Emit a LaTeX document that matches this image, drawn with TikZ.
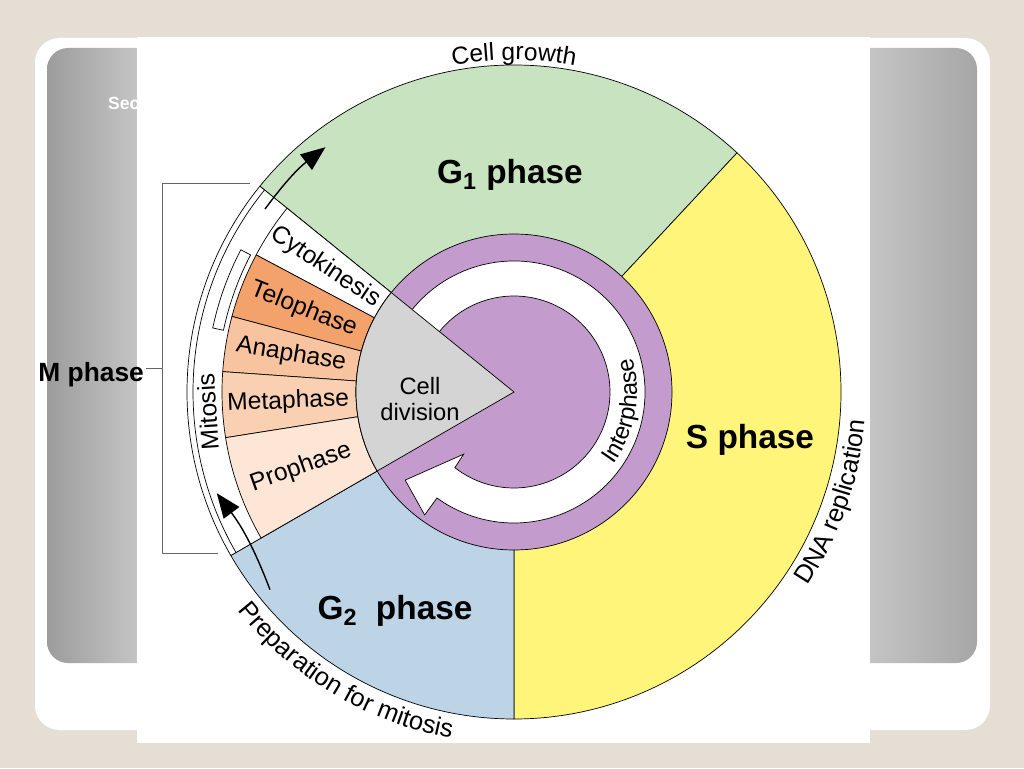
\documentclass[tikz,border=0pt]{standalone}
\usepackage{fontspec}
\setmainfont{Liberation Sans}
\usetikzlibrary{arrows.meta, decorations.text}
\definecolor{bgbeige}{HTML}{E5DED4}
\definecolor{sldark}{HTML}{9C9C9C}
\definecolor{sllight}{HTML}{C4C4C4}
\definecolor{gonecol}{HTML}{C8E3C0}
\definecolor{scol}{HTML}{FFF57A}
\definecolor{gtwocol}{HTML}{BCD4E6}
\definecolor{purp}{HTML}{C39BCC}
\definecolor{divgray}{HTML}{D4D4D4}
\definecolor{telo}{HTML}{F4A26C}
\definecolor{ana}{HTML}{F8C4A0}
\definecolor{meta}{HTML}{F9D0B2}
\definecolor{pro}{HTML}{FDE6D6}

\begin{document}
\begin{tikzpicture}
                [x=0.02cm, y=0.02cm,
                secsty/.style={draw=black, thin},
                bigsty/.style={font=\fontsize{19}{19}\selectfont\bfseries},
                labsty/.style={font=\fontsize{14}{15}\selectfont, align=center},
                asty/.style={-{Triangle[length=14pt, width=11pt]}, thick},
                curv/.style={decorate, decoration={text along path, text align=center, text={#1}}}]
                \useasboundingbox (0,0) rectangle (1024,768);
                % slide background
                \fill[bgbeige] (0,0) rectangle (1024,768);
                \fill[white, rounded corners=14] (35,38) rectangle (990,730);
                \begin{scope}
                    \clip[rounded corners=12] (47,105) rectangle (977,720);
                    \shade[left color=sldark, right color=sllight] (47,105) rectangle (137,720);
                    \shade[left color=sllight, right color=sldark!90] (870,105) rectangle (977,720);
                \end{scope}
                \node[anchor=west, text=white, font=\fontsize{10}{10}\selectfont\bfseries] (sec) at (102,665) {Sec};
                \fill[white] (137,25) rectangle (870,731);
                % M phase bracket
                \coordinate (mt1) at (250,585);
                \coordinate (mt0) at (162,585);
                \coordinate (mb0) at (162,215);
                \coordinate (mb1) at (218,215);
                \coordinate (mm) at (162,400);
                \draw[gray!80!black] (mt1) -- (mt0) -- (mb0) -- (mb1);
                \node[font=\fontsize{15}{15}\selectfont\bfseries, anchor=east, inner sep=1pt] (mph) at (146,393) {M phase};
                \draw[gray!80!black] (mph.east |- mm) -- (mm);
                \begin{scope}[shift={(514,376)}]
                % phases
                \filldraw[secsty, fill=gonecol] (0,0) -- (141:327) arc (141:47:327) -- cycle;
                \filldraw[secsty, fill=scol] (0,0) -- (47:327) arc (47:-90:327) -- cycle;
                \filldraw[secsty, fill=gtwocol] (0,0) -- (-90:327) arc (-90:-150:327) -- cycle;
                \filldraw[secsty, fill=white] (0,0) -- (141:327) arc (141:210:327) -- cycle;
                \draw[secsty] (141:321) arc (141:210:321);
                % mitosis stages
                \foreach \a/\b/\c/\t in {141/152/white/Cytokinesis, 152/165/telo/Telophase, 165/176/ana/Anaphase, 176/189/meta/Metaphase, 189/210/pro/Prophase}{
                    \filldraw[secsty, fill=\c] (\a:158) -- (\a:292) arc (\a:\b:292) -- (\b:158) arc (\b:\a:158) -- cycle;
                    \node[labsty, rotate={(\a+\b)/2-180}] (\t) at ({(\a+\b)/2}:226) {\t};
                }
                \draw[secsty, fill=white] (152.5:297) arc (152.5:168:297) -- (168:308) arc (168:152.5:308) -- cycle;
                % interphase
                \filldraw[secsty, fill=purp] (0,0) circle (158);
                \filldraw[secsty, fill=white] (150:131) arc (150:-126:131) -- (-126:152) -- (-141:140) -- (-129:80) -- (-128:96) arc (-128:150:96) -- cycle;
                \filldraw[secsty, fill=divgray] (0,0) -- (141:158) arc (141:210:158) -- cycle;
                % labels
                \node[labsty, font=\fontsize{13.5}{15}\selectfont] (div) at (-94,-7) {Cell\\division};
                \node[bigsty] (gone) at (-4,217) {G\textsubscript{1} phase};
                \node[bigsty] (sph) at (236,-48) {S phase};
                \node[bigsty] (gtwo) at (-119,-219) {G\textsubscript{2}\ \ phase};
                \node[labsty, rotate=93.7, inner sep=0pt] (mit) at (183.7:307) {Mitosis};
                \path[curv={|\fontsize{13.5}{13.5}\selectfont|Interphase}] (-48:123) arc (-48:28:123);
                \path[curv={|\fontsize{14}{14}\selectfont|Cell growth}] (115:332) arc (115:65:332);
                \path[curv={|\fontsize{14.5}{14.5}\selectfont|DNA replication}] (-38:352) arc (-38:0:352);
                \path[curv={|\fontsize{14.5}{14.5}\selectfont|Preparation for mitosis}] (214:352) arc (214:264:352);
                % cycle arrows
                \coordinate (aone) at (143.7:309);
                \coordinate (atwo) at (127.6:309);
                \coordinate (bone) at (219:314);
                \coordinate (btwo) at (198.8:314);
                \draw[asty] (aone) to[bend left=8] (atwo);
                \draw[asty] (bone) to[bend right=8] (btwo);
                \end{scope}
            \end{tikzpicture}
\end{document}
